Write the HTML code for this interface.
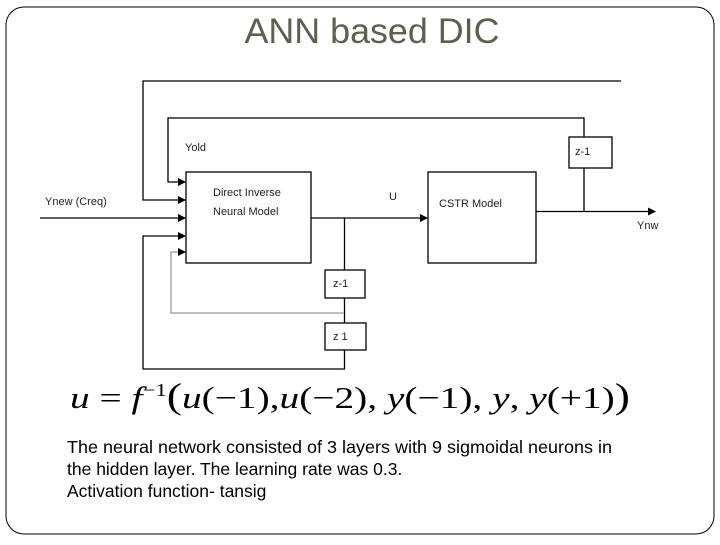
<!DOCTYPE html>
<html><head><style>
body{margin:0;background:#fff;width:720px;height:540px;overflow:hidden}
</style></head><body>
<svg width="720" height="540" xmlns="http://www.w3.org/2000/svg" font-family="Liberation Sans, sans-serif">
<defs><marker id="a" markerWidth="8" markerHeight="8" refX="7" refY="4" orient="auto" markerUnits="userSpaceOnUse"><path d="M0,0 L8,4 L0,8 z" fill="#000"/></marker></defs>
<rect x="6" y="7" width="708" height="527" rx="18" fill="none" stroke="#000" stroke-width="1"/>
<text x="372" y="43" font-size="35" fill="#5f5f50" text-anchor="middle" textLength="255" lengthAdjust="spacingAndGlyphs">ANN based DIC</text>
<g stroke="#000" stroke-width="1.3" fill="none">
<polyline points="621,81 143,81 143,200 185,200" marker-end="url(#a)"/>
<polyline points="584,137 584,118 168,118 168,182 185,182" marker-end="url(#a)"/>
<line x1="40" y1="218" x2="185" y2="218" marker-end="url(#a)"/>
<rect x="186" y="172" width="125" height="91"/>
<line x1="311" y1="218" x2="427" y2="218" marker-end="url(#a)"/>
<rect x="428" y="172" width="108" height="91"/>
<line x1="536" y1="211.5" x2="655" y2="211.5" marker-end="url(#a)"/>
<rect x="569" y="137" width="43" height="31"/>
<line x1="584" y1="168" x2="584" y2="211.5"/>
<line x1="344.5" y1="218" x2="344.5" y2="270"/>
<rect x="325" y="270" width="40" height="28"/>
<line x1="344.5" y1="298" x2="344.5" y2="323"/>
<rect x="325" y="323" width="41" height="27"/>
<polyline points="344.5,350 344.5,369 143,369 143,236 185,236" marker-end="url(#a)"/>
<polyline points="344,313 171,313 171,252 185,252" stroke="#999" marker-end="url(#a)"/>
</g>
<g font-size="11" fill="#222">
<text x="185" y="151">Yold</text>
<text x="213" y="196">Direct Inverse</text>
<text x="213" y="215">Neural Model</text>
<text x="389" y="200">U</text>
<text x="439" y="207">CSTR Model</text>
<text x="637" y="229">Ynw</text>
<text x="45" y="205">Ynew (Creq)</text>
<text x="575" y="155">z-1</text>
<text x="333" y="287">z-1</text>
<text x="333" y="340">z 1</text>
</g>
<text x="70" y="408" font-family="Liberation Serif, serif" font-size="31" font-style="italic" textLength="560" lengthAdjust="spacingAndGlyphs">u <tspan font-style="normal">=</tspan> f<tspan font-size="18" dy="-12" font-style="normal">−1</tspan><tspan dy="12" font-style="normal" font-size="36">(</tspan>u<tspan font-style="normal">(−1),</tspan>u<tspan font-style="normal">(−2),</tspan> y<tspan font-style="normal">(−1),</tspan> y<tspan font-style="normal">,</tspan> y<tspan font-style="normal">(+1)</tspan><tspan font-style="normal" font-size="36">)</tspan></text>
<g font-size="17.5" fill="#000">
<text x="67" y="453" textLength="545" lengthAdjust="spacingAndGlyphs">The neural network consisted of 3 layers with 9 sigmoidal neurons in</text>
<text x="67" y="475">the hidden layer. The learning rate was 0.3.</text>
<text x="67" y="497">Activation function- tansig</text>
</g>
</svg>
</body></html>
